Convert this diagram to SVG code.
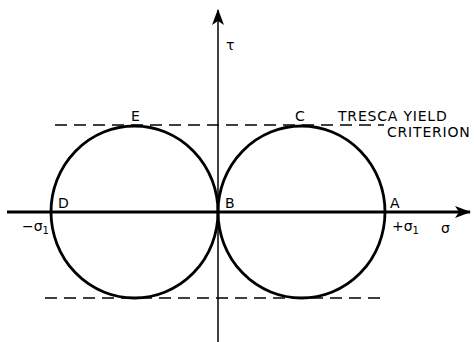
<svg xmlns="http://www.w3.org/2000/svg" width="474" height="342" viewBox="0 0 474 342">
<defs>
<style>
.c{fill:none;stroke:#000;stroke-width:2.8}
.d{fill:none;stroke:#000;stroke-width:1.3;stroke-dasharray:12 7}
.t{font-family:"DejaVu Sans",sans-serif;font-size:14px;fill:#000}
.w{letter-spacing:0.8px}
</style>
<marker id="ah" markerWidth="16" markerHeight="12" refX="15" refY="6" orient="auto" markerUnits="userSpaceOnUse">
<path d="M0,0 L16,6 L0,12 L4,6 Z" fill="#000"/>
</marker>
</defs>
<rect width="474" height="342" fill="#fff"/>
<g id="connectors">
<line x1="7" y1="212" x2="470" y2="212" stroke="#000" stroke-width="3" marker-end="url(#ah)"/>
<line x1="218" y1="342" x2="218" y2="10" stroke="#000" stroke-width="1.5" marker-end="url(#ah)"/>
<line class="d" x1="55" y1="125" x2="384" y2="125"/>
<line class="d" x1="45" y1="298" x2="387" y2="298"/>
</g>
<g id="circle-left"><ellipse class="c" cx="134.5" cy="212" rx="83.5" ry="86"/></g>
<g id="circle-right"><ellipse class="c" cx="301.5" cy="212" rx="83.5" ry="86"/></g>
<g id="labels">
<text class="t" x="131" y="121">E</text>
<text class="t" x="295" y="121">C</text>
<text class="t" x="58" y="208">D</text>
<text class="t" x="225" y="208">B</text>
<text class="t" x="390" y="208">A</text>
<text class="t" x="22" y="231">−σ<tspan font-size="10" dy="3">1</tspan></text>
<text class="t" x="392" y="231">+σ<tspan font-size="10" dy="3">1</tspan></text>
<text class="t" x="441" y="233">σ</text>
<text class="t" x="226" y="50">τ</text>
<text class="t w" x="338" y="121">TRESCA YIELD</text>
<text class="t w" x="387" y="137">CRITERION</text>
</g>
</svg>
